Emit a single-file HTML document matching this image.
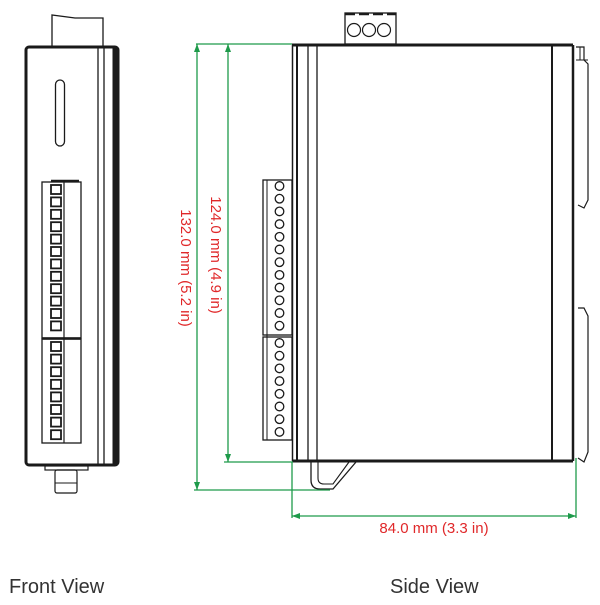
<!DOCTYPE html>
<html><head><meta charset="utf-8"><style>
html,body{margin:0;padding:0;background:#fff;}
svg{display:block;}
</style></head><body>
<svg width="600" height="605" viewBox="0 0 600 605" xmlns="http://www.w3.org/2000/svg">
<g fill="none" stroke="#1a1a1a">
<!-- FRONT VIEW -->
<path d="M52 46 L52 15 L75 18 L103 18 L103 46" stroke-width="1.3" fill="#fff"/>
<rect x="26" y="47" width="92" height="418" rx="3" stroke-width="3" fill="#fff"/>
<line x1="98" y1="47" x2="98" y2="465" stroke-width="1.3"/>
<line x1="104" y1="47" x2="104" y2="465" stroke-width="1.3"/>
<line x1="115" y1="48" x2="115" y2="464" stroke-width="5"/>
<rect x="55.5" y="80" width="9" height="66" rx="4.5" stroke-width="1.3"/>
<rect x="42" y="182" width="39" height="156" stroke-width="1.3" fill="#fff"/>
<rect x="42" y="339" width="39" height="104" stroke-width="1.3" fill="#fff"/>
<line x1="64" y1="182" x2="64" y2="443" stroke-width="1.2"/>
<line x1="51" y1="181" x2="79" y2="181" stroke-width="2.5"/>
<line x1="42" y1="338.5" x2="81" y2="338.5" stroke-width="2.5"/>
<g stroke-width="1.8">
<rect x="51" y="185" width="10" height="9"/><rect x="51" y="197.4" width="10" height="9"/><rect x="51" y="209.8" width="10" height="9"/><rect x="51" y="222.2" width="10" height="9"/><rect x="51" y="234.6" width="10" height="9"/><rect x="51" y="247" width="10" height="9"/><rect x="51" y="259.4" width="10" height="9"/><rect x="51" y="271.8" width="10" height="9"/><rect x="51" y="284.2" width="10" height="9"/><rect x="51" y="296.6" width="10" height="9"/><rect x="51" y="309" width="10" height="9"/><rect x="51" y="321.4" width="10" height="9"/>
<rect x="51" y="342" width="10" height="9"/><rect x="51" y="354.6" width="10" height="9"/><rect x="51" y="367.2" width="10" height="9"/><rect x="51" y="379.8" width="10" height="9"/><rect x="51" y="392.4" width="10" height="9"/><rect x="51" y="405" width="10" height="9"/><rect x="51" y="417.6" width="10" height="9"/><rect x="51" y="430.2" width="10" height="9"/>
</g>
<rect x="45" y="466" width="43" height="4" stroke-width="1.2"/>
<rect x="55" y="470" width="22" height="23" rx="2" stroke-width="1.2"/>
<line x1="55" y1="483" x2="77" y2="483" stroke-width="1"/>

<!-- SIDE VIEW -->
<rect x="345" y="13" width="51" height="31" stroke-width="1.3" fill="#fff"/>
<line x1="345" y1="14" x2="396" y2="14" stroke-width="2.5" stroke-dasharray="10 4"/>
<circle cx="354" cy="30" r="6.5" stroke-width="1.2"/><circle cx="369" cy="30" r="6.5" stroke-width="1.2"/><circle cx="384" cy="30" r="6.5" stroke-width="1.2"/>
<path d="M576 47 L584 47 L584 60 L588 64 L588 200 L584 208 L578 205" stroke-width="1.2"/>
<path d="M580 47 L580 60 M576 60 L588 60" stroke-width="1"/>
<path d="M578 308 L584 308 L588 316 L588 452 L584 462 L578 458" stroke-width="1.2"/>
<line x1="292" y1="45" x2="573" y2="45" stroke-width="3"/>
<line x1="292" y1="461" x2="573" y2="461" stroke-width="3"/>
<line x1="292.5" y1="45" x2="292.5" y2="461" stroke-width="1.5"/>
<line x1="297" y1="45" x2="297" y2="461" stroke-width="2"/>
<line x1="308" y1="45" x2="308" y2="461" stroke-width="1.3"/>
<line x1="317" y1="45" x2="317" y2="461" stroke-width="1.3"/>
<line x1="552" y1="45" x2="552" y2="461" stroke-width="2"/>
<line x1="573" y1="45" x2="573" y2="461" stroke-width="2.5"/>
<path d="M311 462 L311 480 Q311 489 320 489 L333 489 L356 462" stroke-width="1.3"/>
<path d="M318 462 L318 478 Q318 484 324 484 L333 484 L349 462" stroke-width="1.1"/>
<rect x="263" y="180" width="29" height="155" stroke-width="1.3" fill="#fff"/>
<rect x="263" y="337" width="29" height="103" stroke-width="1.3" fill="#fff"/>
<line x1="267" y1="180" x2="267" y2="440" stroke-width="1"/>
<g stroke-width="1.3">
<circle cx="279.5" cy="186" r="4.3"/><circle cx="279.5" cy="198.7" r="4.3"/><circle cx="279.5" cy="211.4" r="4.3"/><circle cx="279.5" cy="224.1" r="4.3"/><circle cx="279.5" cy="236.8" r="4.3"/><circle cx="279.5" cy="249.5" r="4.3"/><circle cx="279.5" cy="262.2" r="4.3"/><circle cx="279.5" cy="274.9" r="4.3"/><circle cx="279.5" cy="287.6" r="4.3"/><circle cx="279.5" cy="300.3" r="4.3"/><circle cx="279.5" cy="313" r="4.3"/><circle cx="279.5" cy="325.7" r="4.3"/>
<circle cx="279.5" cy="343" r="4.3"/><circle cx="279.5" cy="355.7" r="4.3"/><circle cx="279.5" cy="368.4" r="4.3"/><circle cx="279.5" cy="381.1" r="4.3"/><circle cx="279.5" cy="393.8" r="4.3"/><circle cx="279.5" cy="406.5" r="4.3"/><circle cx="279.5" cy="419.2" r="4.3"/><circle cx="279.5" cy="431.9" r="4.3"/>
</g>
</g>
<!-- dimensions -->
<g stroke="#1e9a4a" stroke-width="1.3" fill="none">
<line x1="196" y1="44" x2="292" y2="44"/>
<line x1="197" y1="44" x2="197" y2="490"/>
<line x1="194" y1="490" x2="330" y2="490"/>
<line x1="228" y1="44" x2="228" y2="462"/>
<line x1="224" y1="462" x2="293" y2="462"/>
<line x1="292" y1="462" x2="292" y2="518"/>
<line x1="576" y1="458" x2="576" y2="518"/>
<line x1="292" y1="516" x2="576" y2="516"/>
</g>
<g fill="#1e9a4a">
<path d="M197 44 l-3 8 h6z"/><path d="M197 490 l-3 -8 h6z"/>
<path d="M228 44 l-3 8 h6z"/><path d="M228 462 l-3 -8 h6z"/>
<path d="M292 516 l8 -3 v6z"/><path d="M576 516 l-8 -3 v6z"/>
</g>
<g font-family="'Liberation Sans', Arial, sans-serif" fill="#e0282a" font-size="15">
<text x="0" y="0" transform="translate(181 268) rotate(90)" text-anchor="middle">132.0 mm (5.2 in)</text>
<text x="0" y="0" transform="translate(211 255) rotate(90)" text-anchor="middle">124.0 mm (4.9 in)</text>
<text x="434" y="533" text-anchor="middle">84.0 mm (3.3 in)</text>
</g>
<g font-family="'Liberation Sans', Arial, sans-serif" fill="#333" font-size="20">
<text x="9" y="593">Front View</text>
<text x="390" y="593">Side View</text>
</g>
</svg>
</body></html>
